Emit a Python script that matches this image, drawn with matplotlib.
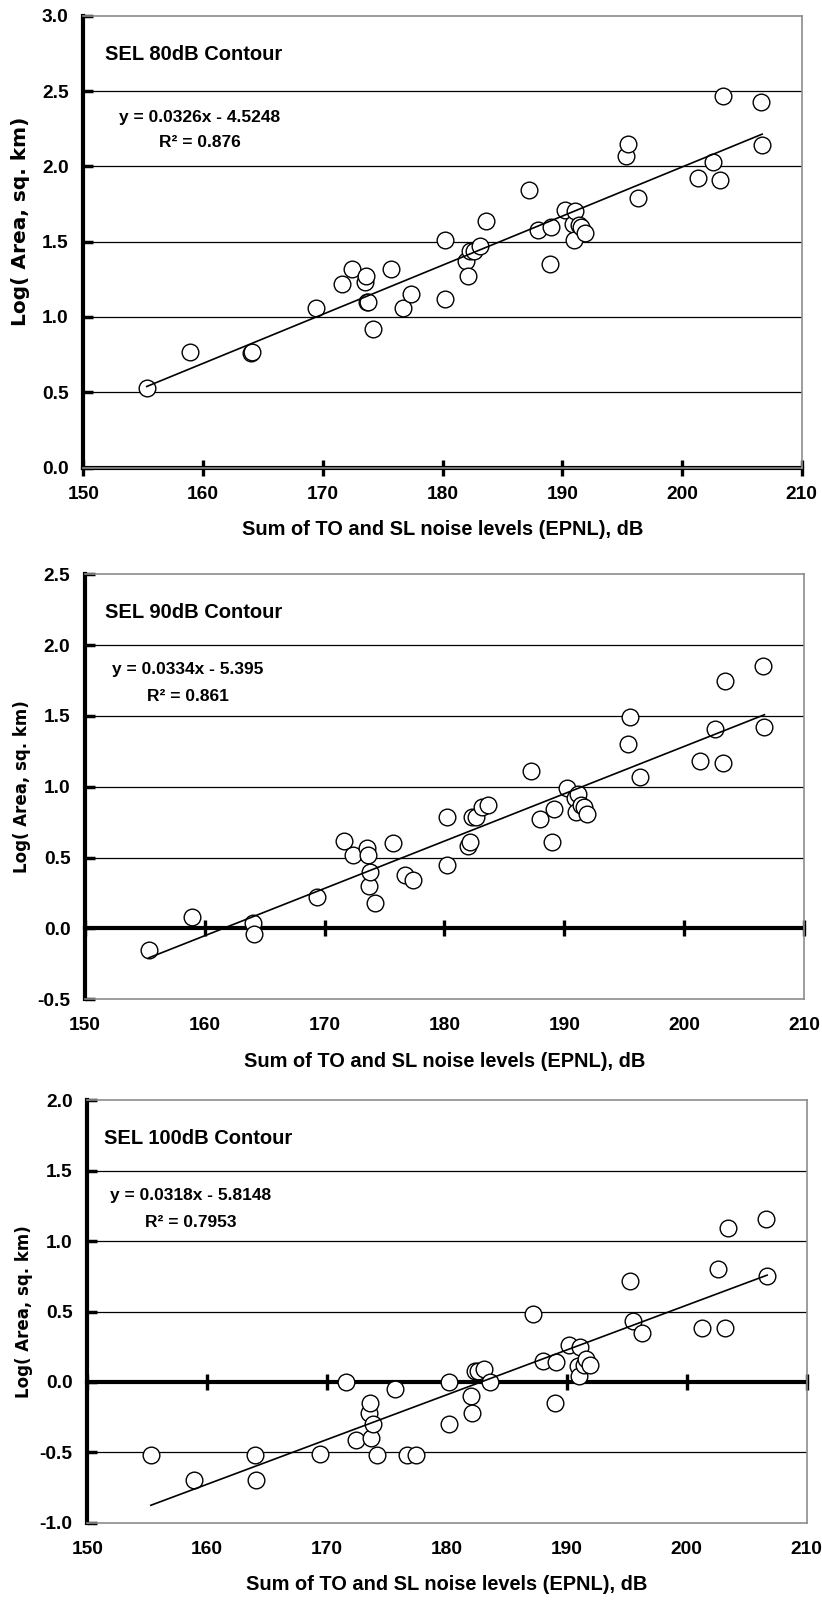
import numpy as np
import matplotlib
matplotlib.use("Agg")
import matplotlib.pyplot as plt
from matplotlib.transforms import offset_copy

plt.rcParams["font.family"] = ["Liberation Sans", "DejaVu Sans"]
plt.rcParams["font.weight"] = "bold"

# ----------------------------
# Data
# ----------------------------
epnl_sum = [155.3, 158.9, 164.0, 164.1, 169.4, 171.6, 172.4, 173.5, 173.6, 173.7,
            173.8, 174.2, 175.7, 176.7, 177.4, 180.2, 180.2, 182.0, 182.1, 182.3,
            182.6, 183.1, 183.6, 187.2, 188.0, 189.0, 189.1, 190.2, 190.9, 191.0,
            191.1, 191.4, 191.6, 191.9, 195.3, 195.5, 196.3, 201.3, 202.6, 203.2,
            203.4, 206.6, 206.7]

log_area_80 = [0.53, 0.77, 0.76, 0.77, 1.06, 1.22, 1.32, 1.23, 1.27, 1.10,
               1.10, 0.92, 1.32, 1.06, 1.15, 1.51, 1.12, 1.37, 1.27, 1.44,
               1.44, 1.47, 1.64, 1.84, 1.58, 1.35, 1.60, 1.71, 1.62, 1.51,
               1.70, 1.61, 1.60, 1.56, 2.07, 2.15, 1.79, 1.92, 2.03, 1.91,
               2.47, 2.43, 2.14]

log_area_90 = [-0.15, 0.08, 0.04, -0.04, 0.22, 0.62, 0.52, 0.57, 0.52, 0.30,
               0.40, 0.18, 0.60, 0.38, 0.34, 0.79, 0.45, 0.58, 0.61, 0.79,
               0.79, 0.86, 0.87, 1.11, 0.77, 0.61, 0.84, 0.99, 0.92, 0.82,
               0.95, 0.87, 0.86, 0.81, 1.30, 1.49, 1.07, 1.18, 1.41, 1.17,
               1.75, 1.85, 1.42]

log_area_100 = [-0.52, -0.70, -0.52, -0.70, -0.51, 0.00, -0.41, -0.22, -0.15, -0.40,
                -0.30, -0.52, -0.05, -0.52, -0.52, 0.00, -0.30, -0.10, -0.22, 0.08,
                0.08, 0.09, 0.00, 0.48, 0.15, -0.15, 0.14, 0.26, 0.11, 0.04,
                0.25, 0.12, 0.16, 0.12, 0.72, 0.43, 0.35, 0.38, 0.80, 0.38,
                1.09, 1.16, 0.75]

panel_titles = ["SEL 80dB Contour", "SEL 90dB Contour", "SEL 100dB Contour"]
fit_slopes = [0.0326, 0.0334, 0.0318]
fit_intercepts = [-4.5248, -5.395, -5.8148]
fit_r2 = ["0.876", "0.861", "0.7953"]
y_limits = [(0.0, 3.0), (-0.5, 2.5), (-1.0, 2.0)]
x_ticks = [150, 160, 170, 180, 190, 200, 210]

x_label = "Sum of TO and SL noise levels (EPNL), dB"
y_label = "Log( Area, sq. km)"

# ----------------------------
# Layout (figure pixels 822 x 1600)
# ----------------------------
W, H = 822, 1600
axes_px = [(83.3, 801.7, 15.7, 467.5),
           (85.0, 804.0, 574.3, 999.3),
           (87.3, 806.7, 1100.3, 1522.7)]
# text anchors in data units: title left x, equation centre x, y of title/eq/R2
text_pos = [(151.8, 159.7, 2.743, 2.325, 2.155),
            (151.7, 158.6, 2.23, 1.83, 1.64),
            (151.4, 158.6, 1.727, 1.323, 1.133)]
ylabel_size = [14.5, 12, 12]
ylabel_shift = [20, 0, 0]

series = [log_area_80, log_area_90, log_area_100]

fig = plt.figure(figsize=(W / 100, H / 100), dpi=100)

for i in range(3):
    left, right, top, bottom = axes_px[i]
    ax = fig.add_axes([left / W, 1 - bottom / H, (right - left) / W, (bottom - top) / H])

    y0, y1 = y_limits[i]
    yticks = np.arange(y0, y1 + 0.01, 0.5)
    ax.set_xlim(150, 210)
    ax.set_ylim(y0, y1)
    ax.set_xticks(x_ticks)
    ax.set_yticks(yticks)
    ax.set_yticklabels([f"{v:.1f}" for v in yticks])

    # horizontal gridlines
    for v in yticks[1:-1]:
        ax.axhline(v, color="black", lw=0.9, zorder=0.5)

    # frame
    for side in ["top", "right", "bottom"]:
        ax.spines[side].set_color("#8c8c8c")
        ax.spines[side].set_linewidth(1.2)
    ax.spines["left"].set_color("black")
    ax.spines["left"].set_linewidth(3)

    ax.tick_params(axis="x", length=0, pad=13, labelsize=13.8)
    ax.tick_params(axis="y", direction="in", length=7, width=2.5, pad=10.5, labelsize=13.8)

    # x axis crossing at y = 0
    sec = ax.secondary_xaxis(0, transform=ax.transData)
    sec.set_xticks(x_ticks)
    sec.tick_params(axis="x", direction="inout", length=11, width=2.4, labelbottom=False)
    sec.spines["bottom"].set_linewidth(3)
    sec.spines["bottom"].set_color("black")
    sec.set_zorder(1)

    # points
    ax.plot(epnl_sum, series[i], "o", ms=12, mfc="white", mec="black",
            mew=1.0, zorder=2, clip_on=False)

    # linear trend line
    xs = np.array([min(epnl_sum), max(epnl_sum)])
    ax.plot(xs, fit_slopes[i] * xs + fit_intercepts[i], color="black", lw=1.2, zorder=3)

    # annotations
    tx, ex, ty, ey, ry = text_pos[i]
    ax.text(tx, ty, panel_titles[i], fontsize=14.5, fontweight="bold",
            ha="left", va="center")
    eq = f"y = {fit_slopes[i]:.4f}x - {abs(fit_intercepts[i]):g}"
    ax.text(ex, ey, eq, fontsize=12.5, fontweight="bold", ha="center", va="center")
    ax.text(ex, ry, "R\u00b2 = " + fit_r2[i], fontsize=12.5, fontweight="bold",
            ha="center", va="center")

    # axis labels
    ax.set_xlabel(x_label, fontsize=14.4, fontweight="bold")
    ax.xaxis.label.set_va("center")
    ax.xaxis.set_label_coords(0.5, 0, transform=offset_copy(
        ax.transAxes, fig=fig, y=-62, units="dots"))

    ax.set_ylabel(y_label, fontsize=ylabel_size[i], fontweight="bold",
                  family="DejaVu Sans")
    ax.yaxis.label.set_va("center")
    ax.yaxis.set_label_coords(0, 0.5, transform=offset_copy(
        ax.transAxes, fig=fig, x=-63, y=ylabel_shift[i], units="dots"))

fig.savefig("out.png", dpi=100)
